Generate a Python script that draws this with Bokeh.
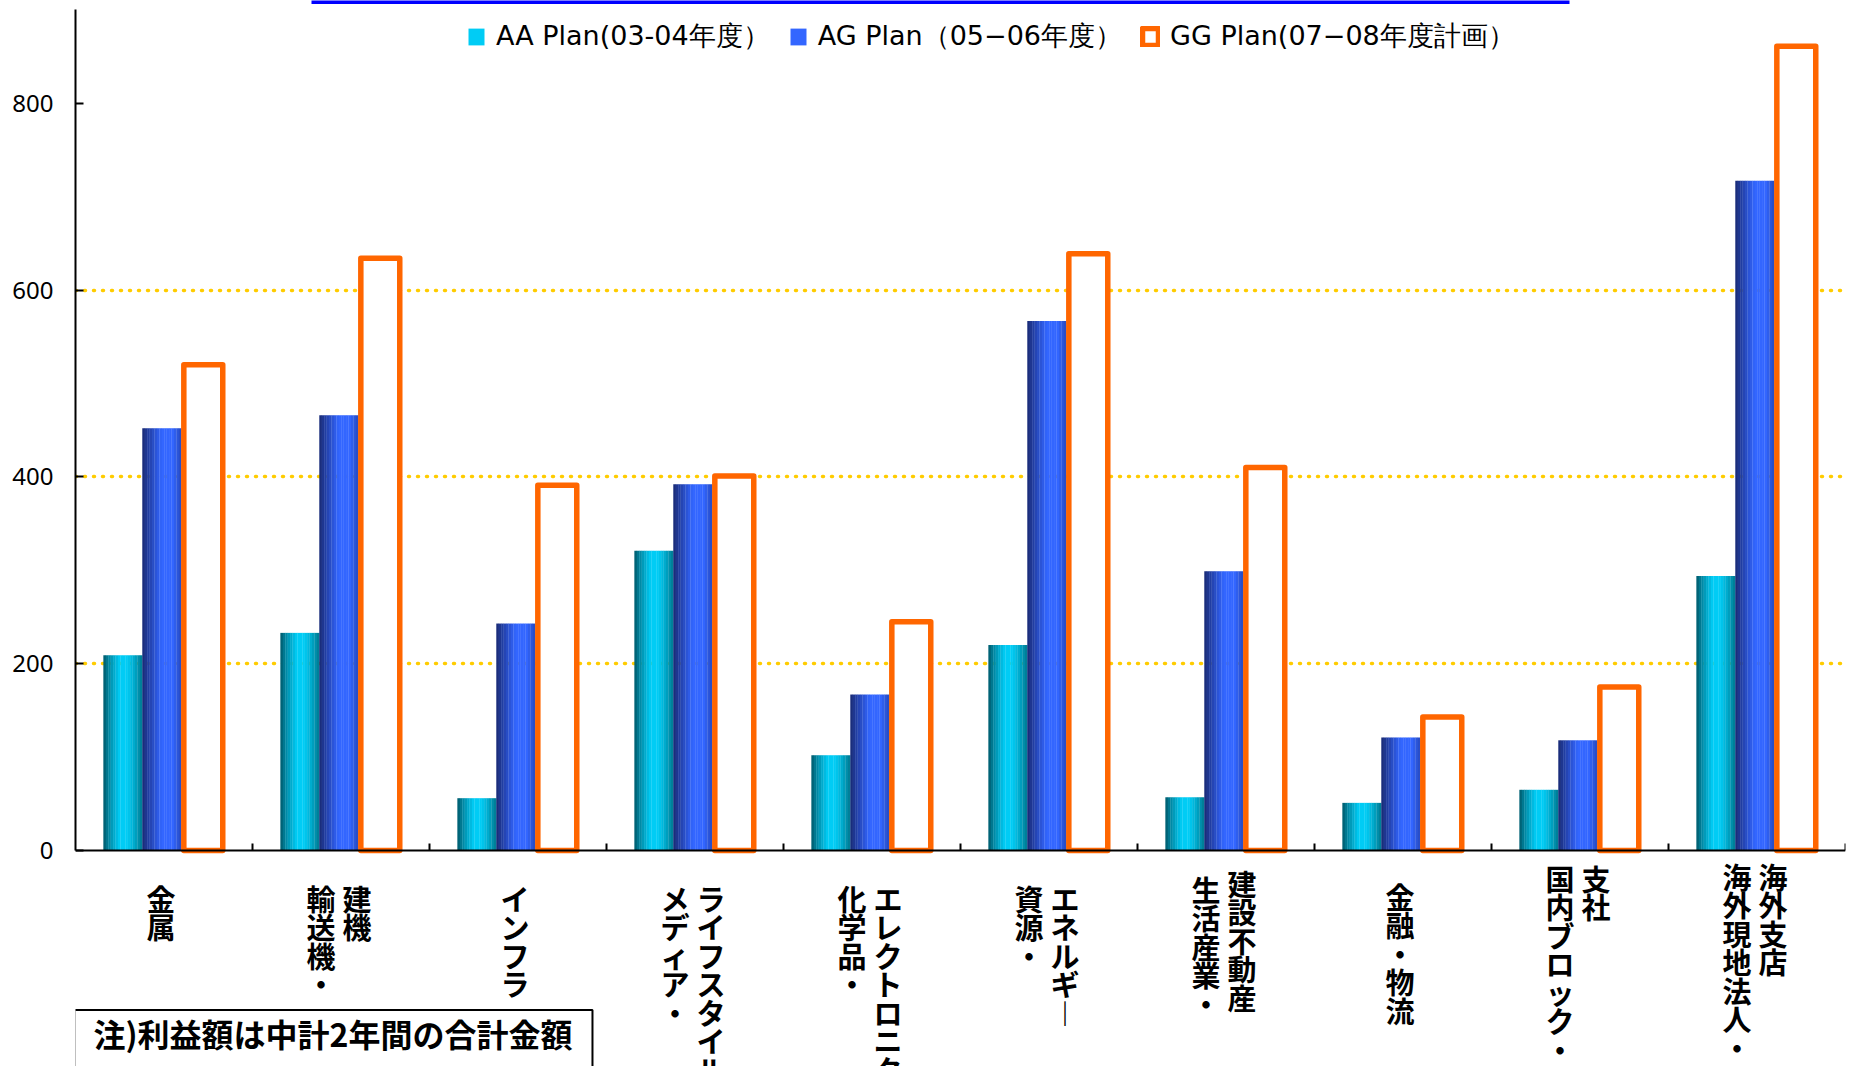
from bokeh.plotting import figure
from bokeh.models import (Range1d, FixedTicker, ColumnDataSource, Legend, LegendItem, Label)
from bokeh.transform import dodge
from bokeh.core.properties import value
from bokeh.embed import file_html
from bokeh.resources import INLINE

# ---- data -------------------------------------------------------------
categories = ["金属", "輸送機・建機", "インフラ", "メディア・ライフスタイル", "化学品・エレクトロニクス",
              "資源・エネルギー", "生活産業・建設不動産", "金融・物流", "国内ブロック・支社",
              "海外現地法人・海外支店"]
# axis label columns (stacked vertical text), first entry is the left-hand column
label_lines = [["金属"], ["輸送機・", "建機"], ["インフラ"], ["メディア・", "ライフスタイル"],
               ["化学品・", "エレクトロニクス"], ["資源・", "エネルギー"], ["生活産業・", "建設不動産"],
               ["金融・物流"], ["国内ブロック・", "支社"], ["海外現地法人・", "海外支店"]]
aa_plan = [209, 233, 56, 321, 102, 220, 57, 51, 65, 294]
ag_plan = [452, 466, 243, 392, 167, 567, 299, 121, 118, 717]
gg_plan = [520, 634, 391, 401, 245, 639, 410, 143, 175, 861]
series_names = ["AA Plan(03-04年度）", "AG Plan（05−06年度）", "GG Plan(07−08年度計画）"]
y_ticks = [0, 200, 400, 600, 800]
grid_ticks = [200, 400, 600]
note_text = "注)利益額は中計2年間の合計金額"

# ---- layout constants (pixels) -----------------------------------------
W, H = 1861, 1066
LEFT, RIGHT = 75, 16
ZERO_PX = 850          # screen row of the value axis origin
PX_PER_UNIT = 0.934
Y_END = ZERO_PX / PX_PER_UNIT
Y_START = -(H - ZERO_PX) / PX_PER_UNIT
N = len(categories)
CAT_PX = (W - LEFT - RIGHT) / N

JP = "Noto Sans CJK JP"

p = figure(width=W, height=H, x_range=Range1d(0, N), y_range=Range1d(Y_START, Y_END),
           output_backend="svg", toolbar_location=None,
           min_border_left=LEFT, min_border_right=RIGHT, min_border_top=0, min_border_bottom=0,
           background_fill_color="white", border_fill_color="white")
p.outline_line_color = None
p.xgrid.visible = False

# value axis
yax = p.yaxis[0]
yax.ticker = FixedTicker(ticks=y_ticks, minor_ticks=[])
yax.bounds = (0, 900)
yax.axis_line_width = 2
yax.axis_line_color = "black"
yax.major_tick_in = 8
yax.major_tick_out = 0
yax.major_tick_line_width = 2
yax.minor_tick_line_color = None
yax.major_label_standoff = 22
yax.major_label_text_font = "Noto Sans"
yax.major_label_text_font_size = "24px"
yax.major_label_text_color = "black"

p.ygrid.ticker = FixedTicker(ticks=grid_ticks, minor_ticks=[])
p.ygrid.grid_line_color = "#FFCC00"
p.ygrid.grid_line_width = 3.5
p.ygrid.grid_line_dash = "1 8"
p.ygrid.grid_line_cap = "round"

# category axis drawn at zero, ticks between groups
xax = p.xaxis[0]
xax.fixed_location = 0
xax.ticker = FixedTicker(ticks=list(range(1, N + 1)), minor_ticks=[])
xax.bounds = (0, N)
xax.axis_line_width = 2
xax.axis_line_color = "black"
xax.major_tick_in = 7
xax.major_tick_out = 0
xax.major_tick_line_width = 2
xax.minor_tick_line_color = None
xax.major_label_text_font_size = "0px"
xax.major_label_text_alpha = 0

# ---- bars ---------------------------------------------------------------
pos = [i + 0.5 for i in range(N)]
src = ColumnDataSource(dict(pos=pos, aa=aa_plan, ag=ag_plan, gg=gg_plan))
BW = 0.22
OFFSETS = [-0.232, -0.012, 0.222]
STRIPS = 16


def mix(c1, c2, s):
    return "#%02x%02x%02x" % tuple(int(round(a + (b - a) * s)) for a, b in zip(c1, c2))


def shade_aa(t):
    if t < 0.42:
        return (t / 0.42) ** 0.8
    if t < 0.6:
        return 1.0
    return 1.0 - 0.7 * ((t - 0.6) / 0.4) ** 1.2


def shade_ag(t):
    if t < 0.5:
        return (t / 0.5) ** 0.9
    if t < 0.78:
        return 1.0
    return 1.0 - 0.45 * ((t - 0.78) / 0.22)


def gradient_bar(field, offset, dark, bright, shade):
    mid = None
    for k in range(STRIPS):
        t = (k + 0.5) / STRIPS
        xo = offset - BW / 2 + t * BW
        r = p.vbar(x=dodge("pos", xo), top=field, bottom=0,
                   width=BW / STRIPS * 1.1, source=src,
                   fill_color=mix(dark, bright, shade(t)), line_color=None)
        if k == STRIPS // 2:
            mid = r
    return mid


aa_r = gradient_bar("aa", OFFSETS[0], (0, 84, 100), (0, 204, 245), shade_aa)
ag_r = gradient_bar("ag", OFFSETS[1], (24, 40, 112), (51, 102, 255), shade_ag)
gg_r = p.vbar(x=dodge("pos", OFFSETS[2]), top="gg", bottom=0, width=BW,
              source=src, fill_color="white", line_color="#FF6600", line_width=5.5,
              line_join="round")

# ---- stacked vertical category labels -----------------------------------
col_dx = {1: [-3], 2: [-20, 16]}
col_top = [[892], [892, 892], [892], [892, 892], [892, 892], [892, 892], [883, 877],
           [890], [872, 872], [870, 870]]
lx, ltext, lxo, lyo = [], [], [], []
for x, cols, tops in zip(pos, label_lines, col_top):
    for col, dx, top in zip(cols, col_dx[len(cols)], tops):
        lx.append(x)
        ltext.append("\n".join("︱" if ch == "ー" else ch for ch in col))
        lxo.append(dx)
        lyo.append(top - ZERO_PX - 16)
lab_src = ColumnDataSource(dict(x=lx, text=ltext, xo=lxo, yo=lyo, y=[0] * len(lx)))
p.text(x="x", y="y", text="text", x_offset="xo", y_offset="yo", source=lab_src,
       text_font=value(JP), text_font_style="bold", text_font_size="29px",
       text_align="center", text_baseline="top", text_line_height=0.68, text_color="black")

# ---- legend -------------------------------------------------------------
legend = Legend(items=[LegendItem(label=series_names[0], renderers=[aa_r]),
                       LegendItem(label=series_names[1], renderers=[ag_r]),
                       LegendItem(label=series_names[2], renderers=[gg_r])],
                orientation="horizontal", location=(391, H - 54),
                glyph_width=20, glyph_height=21, label_standoff=10, spacing=18,
                padding=0, margin=0, border_line_color=None, background_fill_alpha=0,
                label_text_font="DejaVu Sans", label_text_font_size="27px",
                label_text_color="black")
p.add_layout(legend)

# ---- decorations ----------------------------------------------------------
top_line_y = (ZERO_PX - 0.5) / PX_PER_UNIT
p.segment(x0=[(311 - LEFT) / CAT_PX], x1=[(1569 - LEFT) / CAT_PX], y0=[top_line_y], y1=[top_line_y],
          line_color="#0000FF", line_width=6)

note = Label(x=(74 - LEFT) / CAT_PX, y=-(1042 - ZERO_PX) / PX_PER_UNIT,
             text=note_text, text_font=JP, text_font_style="bold", text_font_size="32px",
             text_baseline="middle", text_align="left", text_color="black",
             border_line_color="black", border_line_width=2, background_fill_color="white",
             padding=dict(left=19, right=20, top=0, bottom=19))
p.add_layout(note)

open("out.html", "w").write(file_html(p, INLINE))
